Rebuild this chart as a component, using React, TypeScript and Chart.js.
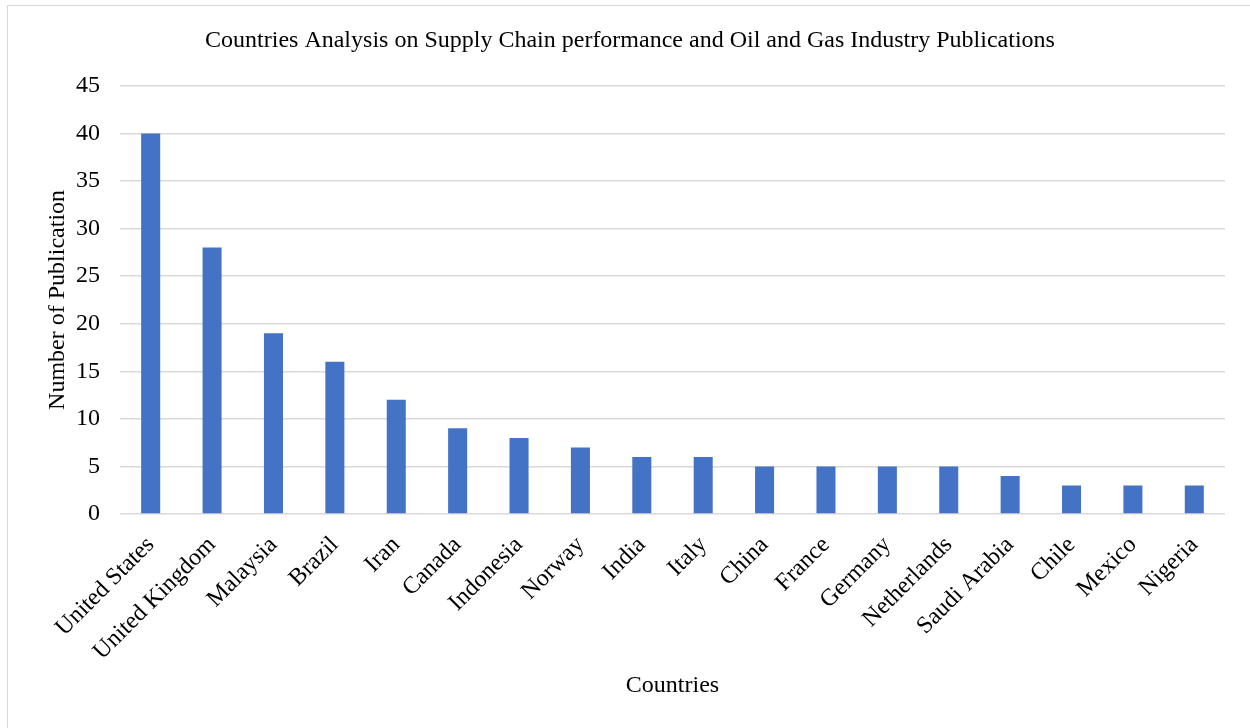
import React, { useEffect, useRef } from "react";
import { Chart, registerables } from "chart.js";

Chart.register(...registerables);

const countries = [
  "United States", "United Kingdom", "Malaysia", "Brazil", "Iran", "Canada",
  "Indonesia", "Norway", "India", "Italy", "China", "France", "Germany",
  "Netherlands", "Saudi Arabia", "Chile", "Mexico", "Nigeria",
];
const publications = [40, 28, 19, 16, 12, 9, 8, 7, 6, 6, 5, 5, 5, 5, 4, 3, 3, 3];
const yTicks = [0, 5, 10, 15, 20, 25, 30, 35, 40, 45];

const titleText = "Countries Analysis on Supply Chain performance and Oil and Gas Industry Publications";
const xTitle = "Countries";
const yTitle = "Number of Publication";

const FONT = '"Liberation Serif", "Times New Roman", serif';

export default function App() {
  const ref = useRef<HTMLCanvasElement | null>(null);

  useEffect(() => {
    if (!ref.current) return;
    const chart = new Chart(ref.current, {
      type: "bar",
      data: {
        labels: countries,
        datasets: [
          {
            data: publications,
            backgroundColor: "#4472C4",
            barPercentage: 0.31,
            categoryPercentage: 1,
          },
        ],
      },
      options: {
        responsive: false,
        animation: false,
        devicePixelRatio: 1,
        layout: { padding: { left: 35, right: 25, top: 0, bottom: 0 } },
        plugins: {
          legend: { display: false },
          tooltip: { enabled: false },
          title: {
            display: true,
            text: titleText,
            color: "#000",
            font: { family: FONT, size: 24, weight: "normal" },
            padding: { top: 26, bottom: 31 },
          },
        },
        scales: {
          x: {
            grid: { display: false, drawTicks: false },
            border: { display: false },
            ticks: {
              color: "#000",
              font: { family: FONT, size: 24 },
              minRotation: 45,
              maxRotation: 45,
              autoSkip: false,
              padding: 17,
            },
            title: {
              display: true,
              text: xTitle,
              color: "#000",
              font: { family: FONT, size: 24 },
              padding: { top: 0, bottom: 28 },
            },
            afterFit: (scale: any) => {
              scale.height = 214;
            },
          },
          y: {
            min: 0,
            max: 45,
            afterBuildTicks: (scale: any) => {
              scale.ticks = yTicks.map((v) => ({ value: v }));
            },
            grid: { color: "#d9d9d9", lineWidth: 1.5, drawTicks: false },
            border: { display: false },
            ticks: {
              color: "#000",
              font: { family: FONT, size: 24 },
              padding: 20,
            },
            title: {
              display: true,
              text: yTitle,
              color: "#000",
              font: { family: FONT, size: 24 },
              padding: { top: 8, bottom: 0 },
            },
            afterFit: (scale: any) => {
              scale.width = 85;
            },
          },
        },
      },
    });
    return () => chart.destroy();
  }, []);

  return (
    <div
      style={{
        position: "fixed",
        left: 0,
        top: 0,
        width: 1250,
        height: 728,
        overflow: "hidden",
        background: "#fff",
      }}
    >
      <div
        style={{
          position: "absolute",
          left: 7,
          top: 5,
          width: 1400,
          height: 900,
          border: "1.5px solid #d9d9d9",
        }}
      />
      <canvas
        ref={ref}
        width={1250}
        height={728}
        style={{ position: "absolute", left: 0, top: 0, width: 1250, height: 728 }}
      />
    </div>
  );
}
